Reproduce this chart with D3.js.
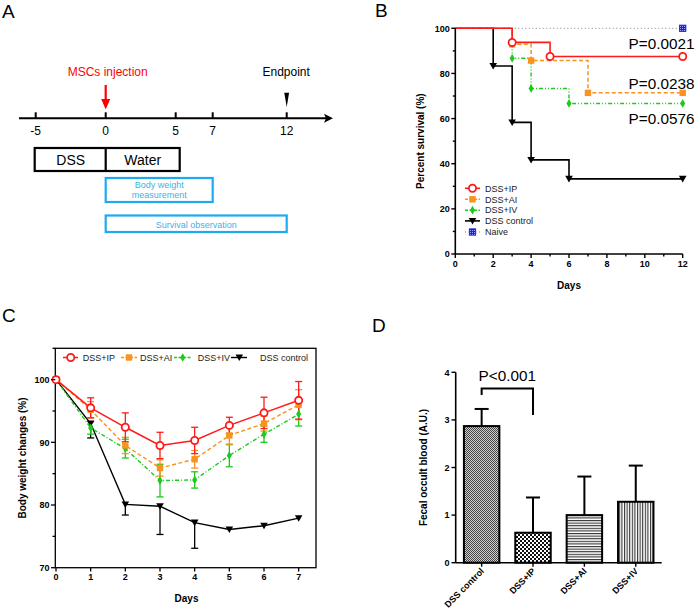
<!DOCTYPE html>
<html><head><meta charset="utf-8">
<script src="https://cdn.jsdelivr.net/npm/d3@7"></script>
<style>body{margin:0;background:#fff} svg{display:block;font-family:"Liberation Sans",Arial,sans-serif}</style>
</head><body><svg id="c" width="697" height="616"></svg>
<script>
// ---------- Panel A data ----------
const timelineTicks = [-5, 0, 5, 7, 12];
// ---------- Panel B data ----------
const survGroups = ["DSS+IP", "DSS+AI", "DSS+IV", "DSS control", "Naive"];
const ipSurvDays = [0, 3, 5, 12],        ipSurv = [100, 93.75, 87.5, 87.5];
const aiSurvDays = [0, 3, 4, 7, 12],     aiSurv = [100, 92.9, 85.7, 71.4, 71.4];
const ivSurvDays = [0, 3, 4, 6, 12],     ivSurv = [100, 86.7, 73.3, 66.7, 66.7];
const ctlSurvDays = [0, 2, 3, 4, 6, 12], ctlSurv = [100, 83.3, 58.3, 41.7, 33.3, 33.3];
const naiveSurvDays = [0, 12],           naiveSurv = [100, 100];
const survPValues = ["P=0.0021", "P=0.0238", "P=0.0576"];
const survPAt = [87.5, 71.4, 66.7];
// ---------- Panel C data ----------
const weightGroups = ["DSS+IP", "DSS+AI", "DSS+IV", "DSS control"];
const weightDays = [0, 1, 2, 3, 4, 5, 6, 7];
const ipWeight  = [100, 95.5, 92.4, 89.5, 90.3, 92.7, 94.7, 96.7];
const ipErr     = [0, 1.6, 2.3, 2.1, 2.1, 1.3, 2.5, 3.0];
const aiWeight  = [100, 95.2, 89.5, 85.9, 87.3, 91.1, 93.0, 96.0];
const aiErr     = [0, 1.3, 1.3, 1.3, 1.4, 1.5, 1.2, 2.4];
const ivWeight  = [100, 92.3, 89.0, 83.9, 84.0, 87.9, 91.3, 94.5];
const ivErr     = [0, 1.0, 1.5, 2.6, 1.3, 1.8, 1.3, 1.9];
const ctlWeight = [100, 93.0, 80.1, 79.8, 77.2, 76.1, 76.7, 77.9];
const ctlErr    = [0, 2.3, 1.7, 4.5, 4.1, 0.2, 0.2, 0.2];
// ---------- Panel D data ----------
const fobCategories = ["DSS control", "DSS+IP", "DSS+AI", "DSS+IV"];
const fobValues = [2.87, 0.63, 1.00, 1.28];
const fobErr    = [0.36, 0.74, 0.81, 0.76];
const fobPText = "P<0.001";

const RED = "#ff1a1a", ORANGE = "#f7931e", GREEN = "#1ec81e", BLACK = "#000", BLUE = "#1a1aff", CYAN = "#1eaaf1";

const svg = d3.select("#c");
const defs = svg.append("defs");

// patterns
let p = defs.append("pattern").attr("id","pFine").attr("width",2).attr("height",2).attr("patternUnits","userSpaceOnUse");
p.append("rect").attr("width",2).attr("height",2).attr("fill","#d0d0d0");
p.append("rect").attr("width",1).attr("height",1).attr("fill","#444");
p.append("rect").attr("x",1).attr("y",1).attr("width",1).attr("height",1).attr("fill","#444");
p = defs.append("pattern").attr("id","pCheck").attr("width",4).attr("height",4).attr("patternUnits","userSpaceOnUse");
p.append("rect").attr("width",4).attr("height",4).attr("fill","#fff");
p.append("rect").attr("width",2).attr("height",2).attr("fill","#111");
p.append("rect").attr("x",2).attr("y",2).attr("width",2).attr("height",2).attr("fill","#111");
p = defs.append("pattern").attr("id","pHoriz").attr("width",4).attr("height",2.6).attr("patternUnits","userSpaceOnUse");
p.append("rect").attr("width",4).attr("height",2.6).attr("fill","#fff");
p.append("rect").attr("width",4).attr("height",1.1).attr("fill","#333");
p = defs.append("pattern").attr("id","pVert").attr("width",2.6).attr("height",4).attr("patternUnits","userSpaceOnUse");
p.append("rect").attr("width",2.6).attr("height",4).attr("fill","#fff");
p.append("rect").attr("width",1.1).attr("height",4).attr("fill","#333");
p = defs.append("pattern").attr("id","pBlue").attr("width",2).attr("height",2).attr("patternUnits","userSpaceOnUse");
p.append("rect").attr("width",2).attr("height",2).attr("fill","#1a1aff");
p.append("rect").attr("width",1).attr("height",1).attr("fill","#9aa0ff");

function panelLabel(t, x, y){
  svg.append("text").attr("x",x).attr("y",y).attr("font-size",19).text(t);
}

// ================= Panel A =================
(function(){
  panelLabel("A", 2, 18);
  const x = d3.scaleLinear().domain(timelineTicks).range([35.7, 105.7, 175.7, 212.7, 286.7]);
  const g = svg.append("g");
  const axY = 118.3;
  g.append("line").attr("x1",19).attr("x2",326).attr("y1",axY).attr("y2",axY).attr("stroke","#000").attr("stroke-width",2);
  g.append("path").attr("d",`M333,${axY} L324,${axY-4.5} L326,${axY} L324,${axY+4.5} Z`).attr("fill","#000");
  timelineTicks.forEach(t=>{
    g.append("line").attr("x1",x(t)).attr("x2",x(t)).attr("y1",axY-6).attr("y2",axY).attr("stroke","#000").attr("stroke-width",2);
    g.append("text").attr("x",x(t)).attr("y",135).attr("text-anchor","middle").attr("font-size",12).text(t);
  });
  // injection arrow
  g.append("text").attr("x",x(0)+2).attr("y",76).attr("text-anchor","middle").attr("font-size",12).attr("fill","#f00").text("MSCs injection");
  g.append("line").attr("x1",x(0)).attr("x2",x(0)).attr("y1",85).attr("y2",101).attr("stroke","#f00").attr("stroke-width",2.2);
  g.append("path").attr("d",`M${x(0)-4.5},99 L${x(0)+4.5},99 L${x(0)},109.5 Z`).attr("fill","#f00");
  g.append("text").attr("x",x(12)-0.5).attr("y",76).attr("text-anchor","middle").attr("font-size",12).text("Endpoint");
  g.append("path").attr("d",`M${x(12)-2.4},92.7 L${x(12)+2.4},92.7 L${x(12)},107 Z`).attr("fill","#000");
  // DSS / Water boxes
  g.append("rect").attr("x",x(-5)-1).attr("y",148).attr("width",x(5)+4-x(-5)+1).attr("height",23).attr("fill","none").attr("stroke","#000").attr("stroke-width",2.2);
  g.append("line").attr("x1",x(0)).attr("x2",x(0)).attr("y1",148).attr("y2",171).attr("stroke","#000").attr("stroke-width",2.2);
  g.append("text").attr("x",(x(-5)+x(0))/2).attr("y",164.5).attr("text-anchor","middle").attr("font-size",14).text("DSS");
  g.append("text").attr("x",(x(0)+x(5)+4)/2).attr("y",164.5).attr("text-anchor","middle").attr("font-size",14).text("Water");
  // body weight box
  g.append("rect").attr("x",x(0)).attr("y",178).attr("width",x(7)-x(0)).attr("height",24).attr("fill","none").attr("stroke",CYAN).attr("stroke-width",2.2);
  g.append("text").attr("x",(x(0)+x(7))/2).attr("y",188).attr("text-anchor","middle").attr("font-size",9).attr("fill","#3bb3e8").text("Body weight");
  g.append("text").attr("x",(x(0)+x(7))/2).attr("y",197.8).attr("text-anchor","middle").attr("font-size",9).attr("fill","#3bb3e8").text("measurement");
  // survival box
  g.append("rect").attr("x",x(0)).attr("y",215.5).attr("width",x(12)-x(0)).attr("height",16.5).attr("fill","none").attr("stroke",CYAN).attr("stroke-width",2.2);
  g.append("text").attr("x",(x(0)+x(12))/2).attr("y",227.5).attr("text-anchor","middle").attr("font-size",9).attr("fill","#3bb3e8").text("Survival observation");
})();

// marker helper
function marker(g, type, cx, cy, color){
  if(type==="circle"){
    g.append("circle").attr("cx",cx).attr("cy",cy).attr("r",3.6).attr("fill","#fff").attr("stroke",color).attr("stroke-width",1.8);
  } else if(type==="square"){
    g.append("rect").attr("x",cx-3.2).attr("y",cy-3.2).attr("width",6.4).attr("height",6.4).attr("fill",color);
  } else if(type==="diamond"){
    g.append("path").attr("transform",`translate(${cx},${cy})`).attr("d",d3.symbol(d3.symbolDiamond,22)()).attr("fill",color);
  } else if(type==="tri"){
    g.append("path").attr("d",`M${cx-3.8},${cy-3} L${cx+3.8},${cy-3} L${cx},${cy+3.6} Z`).attr("fill",color);
  } else if(type==="naive"){
    g.append("rect").attr("x",cx-3.2).attr("y",cy-3.2).attr("width",6.4).attr("height",6.4).attr("fill","url(#pBlue)").attr("stroke",color).attr("stroke-width",0.8);
  }
}

// ================= Panel B =================
(function(){
  panelLabel("B", 375, 17);
  const x = d3.scaleLinear().domain([0,12]).range([455.3, 682.7]);
  const y = d3.scaleLinear().domain([0,100]).range([254, 28.3]);
  const g = svg.append("g");
  const series = [
    {name:survGroups[4], days:naiveSurvDays, vals:naiveSurv, color:"#666", dash:"1,2.5", w:0.8, m:"naive", mcolor:BLUE},
    {name:survGroups[3], days:ctlSurvDays, vals:ctlSurv, color:BLACK, dash:null, w:1.6, m:"tri", mcolor:BLACK},
    {name:survGroups[2], days:ivSurvDays, vals:ivSurv, color:GREEN, dash:"4,2,1,2,1,2", w:1.4, m:"diamond", mcolor:GREEN},
    {name:survGroups[1], days:aiSurvDays, vals:aiSurv, color:ORANGE, dash:"4,2.5", w:1.5, m:"square", mcolor:ORANGE},
    {name:survGroups[0], days:ipSurvDays, vals:ipSurv, color:RED, dash:null, w:1.6, m:"circle", mcolor:RED}
  ];
  const line = d3.line().x(d=>x(d[0])).y(d=>y(d[1])).curve(d3.curveStepAfter);
  series.forEach(s=>{
    const pts = s.days.map((d,i)=>[d, s.vals[i]]);
    g.append("path").attr("d",line(pts)).attr("fill","none").attr("stroke",s.color).attr("stroke-width",s.w).attr("stroke-dasharray",s.dash);
  });
  series.forEach(s=>{
    s.days.forEach((d,i)=>{ if(i>0) marker(g, s.m, x(d), y(s.vals[i]), s.mcolor); });
  });
  // axes
  const ax = g.append("g").attr("transform","translate(0,254)");
  ax.append("line").attr("x1",x(0)).attr("x2",x(12)).attr("stroke","#000").attr("stroke-width",1.6);
  d3.range(0,13).forEach(t=>{
    const major = t%2===0;
    ax.append("line").attr("x1",x(t)).attr("x2",x(t)).attr("y1",0).attr("y2",major?4:2.5).attr("stroke","#000").attr("stroke-width",1.4);
    if(major) ax.append("text").attr("x",x(t)).attr("y",13).attr("text-anchor","middle").attr("font-size",9).attr("font-weight","bold").text(t);
  });
  const ay = g.append("g").attr("transform",`translate(${x(0)},0)`);
  ay.append("line").attr("y1",y(0)).attr("y2",y(100)).attr("stroke","#000").attr("stroke-width",1.6);
  d3.range(0,101,10).forEach(t=>{
    const major = t%20===0;
    ay.append("line").attr("x1",major?-4:-2.5).attr("x2",0).attr("y1",y(t)).attr("y2",y(t)).attr("stroke","#000").attr("stroke-width",1.4);
    if(major) ay.append("text").attr("x",-5.5).attr("y",y(t)+3.2).attr("text-anchor","end").attr("font-size",9).attr("font-weight","bold").text(t);
  });
  g.append("text").attr("transform",`translate(424,${(y(0)+y(100))/2}) rotate(-90)`).attr("text-anchor","middle").attr("font-size",10).attr("font-weight","bold").text("Percent survival (%)");
  g.append("text").attr("x",(x(0)+x(12))/2).attr("y",289).attr("text-anchor","middle").attr("font-size",10).attr("font-weight","bold").text("Days");
  // p values
  const pY = [48.8, 89.2, 123.6];
  survPValues.forEach((t,i)=>{
    g.append("text").attr("x",694.5).attr("y",pY[i]).attr("text-anchor","end").attr("font-size",15.3).text(t);
  });
  // legend
  const leg = [series[4],series[3],series[2],series[1],series[0]];
  const ly = [188.3,199.3,210.2,220.9,232];
  leg.forEach((s,i)=>{
    g.append("line").attr("x1",465).attr("x2",480).attr("y1",ly[i]).attr("y2",ly[i]).attr("stroke",s.color).attr("stroke-width",s.w).attr("stroke-dasharray",s.m==="naive"?"1,2.5":(s.dash?"3,1.5":null));
    marker(g, s.m, 472.5, ly[i], s.mcolor);
    g.append("text").attr("x",485).attr("y",ly[i]+3.2).attr("font-size",9).attr("fill","#222").text(s.name);
  });
})();

// ================= Panel C =================
(function(){
  panelLabel("C", 2, 321.7);
  const x = d3.scaleLinear().domain([0,7.5]).range([56, 316]);
  const y = d3.scaleLinear().domain([70,105]).range([567.7, 348.3]);
  const g = svg.append("g");
  g.append("rect").attr("x",55.3).attr("y",y(105)).attr("width",316-55.3).attr("height",y(70)-y(105)).attr("fill","none").attr("stroke","#000").attr("stroke-width",1.3);
  const series = [
    {name:weightGroups[3], vals:ctlWeight, err:ctlErr, color:BLACK, dash:null, w:1.4, m:"tri", down:true},
    {name:weightGroups[2], vals:ivWeight, err:ivErr, color:GREEN, dash:"4,2,1,2", w:1.4, m:"diamond"},
    {name:weightGroups[1], vals:aiWeight, err:aiErr, color:ORANGE, dash:"4,2.5", w:1.4, m:"square"},
    {name:weightGroups[0], vals:ipWeight, err:ipErr, color:RED, dash:null, w:1.5, m:"circle"}
  ];
  const line = d3.line().x((d,i)=>x(weightDays[i])).y(d=>y(d));
  series.forEach(s=>{
    // error bars
    s.vals.forEach((v,i)=>{
      const e = s.err[i]; if(e<=0.3) return;
      const cx = x(weightDays[i]);
      const top = s.down ? v : v+e, bot = v-e;
      g.append("line").attr("x1",cx).attr("x2",cx).attr("y1",y(top)).attr("y2",y(bot)).attr("stroke",s.color).attr("stroke-width",1.3);
      if(!s.down) g.append("line").attr("x1",cx-3.5).attr("x2",cx+3.5).attr("y1",y(v+e)).attr("y2",y(v+e)).attr("stroke",s.color).attr("stroke-width",1.3);
      g.append("line").attr("x1",cx-3.5).attr("x2",cx+3.5).attr("y1",y(bot)).attr("y2",y(bot)).attr("stroke",s.color).attr("stroke-width",1.3);
    });
    g.append("path").attr("d",line(s.vals)).attr("fill","none").attr("stroke",s.color).attr("stroke-width",s.w).attr("stroke-dasharray",s.dash);
  });
  series.forEach(s=>{
    s.vals.forEach((v,i)=>marker(g, s.m, x(weightDays[i]), y(v), s.color));
  });
  // axes ticks
  weightDays.forEach(t=>{
    g.append("line").attr("x1",x(t)).attr("x2",x(t)).attr("y1",567.7).attr("y2",571.5).attr("stroke","#000").attr("stroke-width",1.3);
    g.append("text").attr("x",x(t)).attr("y",580).attr("text-anchor","middle").attr("font-size",9).attr("font-weight","bold").text(t);
  });
  [70,75,80,85,90,95,100,105].forEach(t=>{
    const major = t%10===0;
    g.append("line").attr("x1",major?51:52.5).attr("x2",55.3).attr("y1",y(t)).attr("y2",y(t)).attr("stroke","#000").attr("stroke-width",1.3);
    if(major) g.append("text").attr("x",49.5).attr("y",y(t)+3.2).attr("text-anchor","end").attr("font-size",9).attr("font-weight","bold").text(t);
  });
  g.append("text").attr("transform",`translate(26,${y(87.5)}) rotate(-90)`).attr("text-anchor","middle").attr("font-size",10).attr("font-weight","bold").text("Body weight changes (%)");
  g.append("text").attr("x",186.5).attr("y",601.5).attr("text-anchor","middle").attr("font-size",10).attr("font-weight","bold").text("Days");
  // legend
  const legY = 357.5;
  const leg = [
    {s:series[3], x1:63, x2:78, mx:70.7, tx:82.7},
    {s:series[2], x1:121, x2:137, mx:129, tx:140},
    {s:series[1], x1:174, x2:191, mx:182.7, tx:197.7},
    {s:series[0], x1:231, x2:247, mx:239.3, tx:260}
  ];
  leg.forEach(l=>{
    g.append("line").attr("x1",l.x1).attr("x2",l.x2).attr("y1",legY).attr("y2",legY).attr("stroke",l.s.color).attr("stroke-width",l.s.w).attr("stroke-dasharray",l.s.dash?"3,1.5":null);
    marker(g, l.s.m, l.mx, legY, l.s.color);
    g.append("text").attr("x",l.tx).attr("y",legY+3.2).attr("font-size",9).attr("fill","#222").text(l.s.name);
  });
})();

// ================= Panel D =================
(function(){
  panelLabel("D", 372, 331.7);
  const x = d3.scaleBand().domain(fobCategories).range([455.7, 661.7]).paddingInner(0.31).paddingOuter(0.16);
  const y = d3.scaleLinear().domain([0,4]).range([562.7, 372.3]);
  const g = svg.append("g");
  const fills = ["url(#pFine)","url(#pCheck)","url(#pHoriz)","url(#pVert)"];
  fobCategories.forEach((c,i)=>{
    const cx = x(c)+x.bandwidth()/2;
    g.append("line").attr("x1",cx).attr("x2",cx).attr("y1",y(fobValues[i])).attr("y2",y(fobValues[i]+fobErr[i])).attr("stroke","#000").attr("stroke-width",2);
    g.append("line").attr("x1",cx-7).attr("x2",cx+7).attr("y1",y(fobValues[i]+fobErr[i])).attr("y2",y(fobValues[i]+fobErr[i])).attr("stroke","#000").attr("stroke-width",2);
    g.append("rect").attr("x",x(c)).attr("y",y(fobValues[i])).attr("width",x.bandwidth()).attr("height",y(0)-y(fobValues[i])).attr("fill",fills[i]).attr("stroke","#000").attr("stroke-width",2);
  });
  g.append("line").attr("x1",455.7).attr("x2",661.7).attr("y1",y(0)).attr("y2",y(0)).attr("stroke","#000").attr("stroke-width",1.6);
  g.append("line").attr("x1",455.7).attr("x2",455.7).attr("y1",y(0)).attr("y2",y(4)).attr("stroke","#000").attr("stroke-width",1.6);
  [0,1,2,3,4].forEach(t=>{
    g.append("line").attr("x1",451.5).attr("x2",455.7).attr("y1",y(t)).attr("y2",y(t)).attr("stroke","#000").attr("stroke-width",1.4);
    g.append("text").attr("x",449.5).attr("y",y(t)+3.2).attr("text-anchor","end").attr("font-size",9).attr("font-weight","bold").text(t);
  });
  fobCategories.forEach(c=>{
    const cx = x(c)+x.bandwidth()/2;
    g.append("line").attr("x1",cx).attr("x2",cx).attr("y1",y(0)).attr("y2",y(0)+4).attr("stroke","#000").attr("stroke-width",1.4);
    g.append("text").attr("transform",`translate(${cx+3},${y(0)+9}) rotate(-45)`).attr("text-anchor","end").attr("font-size",9).attr("font-weight","bold").text(c);
  });
  g.append("text").attr("transform",`translate(427,${y(2)}) rotate(-90)`).attr("text-anchor","middle").attr("font-size",10).attr("font-weight","bold").text("Fecal occult blood (A.U.)");
  // significance bracket
  const c0 = x(fobCategories[0])+x.bandwidth()/2, c1 = x(fobCategories[1])+x.bandwidth()/2;
  g.append("path").attr("d",`M${c0},395 L${c0},388.5 L${c1},388.5 L${c1},415`).attr("fill","none").attr("stroke","#000").attr("stroke-width",2);
  g.append("text").attr("x",(c0+c1)/2).attr("y",381).attr("text-anchor","middle").attr("font-size",15.3).text(fobPText);
})();
</script></body></html>
